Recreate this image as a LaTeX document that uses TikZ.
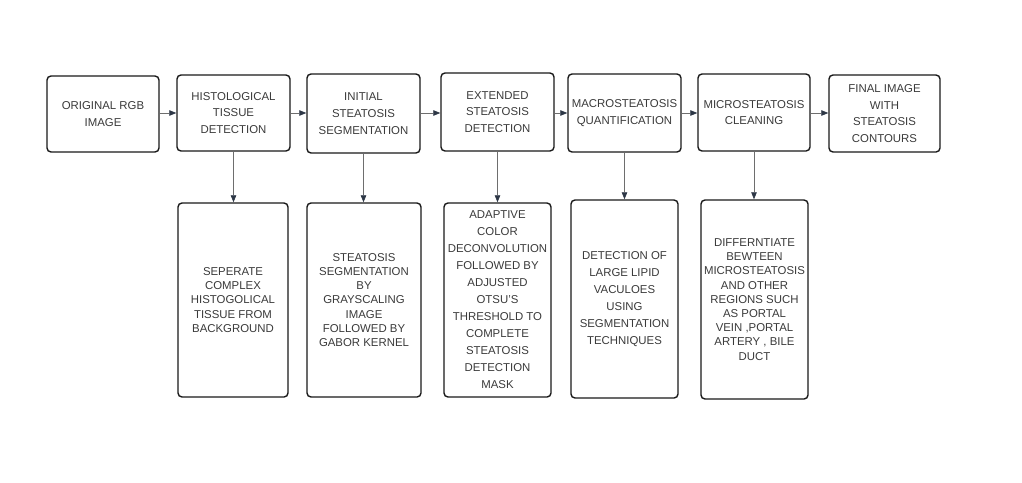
\documentclass[tikz,border=0pt]{standalone}
\usepackage{fontspec}
\setmainfont{Liberation Sans}
\usetikzlibrary{arrows.meta}
\definecolor{txt}{RGB}{58,58,58}
\definecolor{edge}{RGB}{25,25,25}
\definecolor{conn}{RGB}{110,110,110}
\definecolor{head}{RGB}{45,55,70}
\begin{document}
\begin{tikzpicture}[x=1pt,y=-1pt,
  box/.style={draw=edge, line width=1.4pt, rounded corners=4pt, inner sep=0pt, align=center, text=txt},
  tl/.style={font=\fontsize{11.4}{16.8}\selectfont},
  bs/.style={font=\fontsize{11.4}{14.2}\selectfont},
  bl/.style={font=\fontsize{11.4}{17}\selectfont},
  arr/.style={draw=conn, line width=0.7pt, -{Triangle[length=7pt,width=5.5pt,color=head,fill=head]}}]
\useasboundingbox (0,0) rectangle (1022,482);
% top row
\node[box,tl,minimum width=112pt,minimum height=76pt] (o)  at (103,114)   {ORIGINAL RGB\\IMAGE};
\node[box,tl,minimum width=113pt,minimum height=76pt] (h)  at (233.5,113) {HISTOLOGICAL\\TISSUE\\DETECTION};
\node[box,tl,minimum width=113pt,minimum height=79pt] (i)  at (363.5,113.5) {INITIAL\\STEATOSIS\\SEGMENTATION};
\node[box,tl,minimum width=113pt,minimum height=78pt] (e)  at (497.5,112) {EXTENDED\\STEATOSIS\\DETECTION};
\node[box,tl,minimum width=113pt,minimum height=78pt] (ma) at (624.5,113) {MACROSTEATOSIS\\QUANTIFICATION};
\node[box,tl,minimum width=112pt,minimum height=77pt] (mi) at (754,112.5) {MICROSTEATOSIS\\CLEANING};
\node[box,tl,minimum width=111pt,minimum height=77pt] (f)  at (884.5,113.5) {FINAL IMAGE\\WITH\\STEATOSIS\\CONTOURS};
% bottom row
\node[box,bs,minimum width=110pt,minimum height=194pt] (b1) at (233,300) {SEPERATE\\COMPLEX\\HISTOGOLICAL\\TISSUE FROM\\BACKGROUND};
\node[box,bs,minimum width=114pt,minimum height=194pt] (b2) at (364,300) {STEATOSIS\\SEGMENTATION\\BY\\GRAYSCALING\\IMAGE\\FOLLOWED BY\\GABOR KERNEL};
\node[box,bl,minimum width=107pt,minimum height=194pt] (b3) at (497.5,300) {ADAPTIVE\\COLOR\\DECONVOLUTION\\FOLLOWED BY\\ADJUSTED\\OTSU'S\\THRESHOLD TO\\COMPLETE\\STEATOSIS\\DETECTION\\MASK};
\node[box,bl,minimum width=107pt,minimum height=198pt] (b4) at (624.5,299) {DETECTION OF\\LARGE LIPID\\VACULOES\\USING\\SEGMENTATION\\TECHNIQUES};
\node[box,bs,minimum width=107pt,minimum height=199pt] (b5) at (754.5,299.5) {DIFFERNTIATE\\BEWTEEN\\MICROSTEATOSIS\\AND OTHER\\REGIONS SUCH\\AS PORTAL\\VEIN ,PORTAL\\ARTERY , BILE\\DUCT};
% horizontal arrows
\coordinate (y0) at (0,113);
\draw[arr] (o.east |- y0) -- (h.west |- y0);
\draw[arr] (h.east |- y0) -- (i.west |- y0);
\draw[arr] (i.east |- y0) -- (e.west |- y0);
\draw[arr] (e.east |- y0) -- (ma.west |- y0);
\draw[arr] (ma.east |- y0) -- (mi.west |- y0);
\draw[arr] (mi.east |- y0) -- (f.west |- y0);
% vertical arrows
\draw[arr] (h.south) -- (h.south |- b1.north);
\draw[arr] (i.south) -- (i.south |- b2.north);
\draw[arr] (e.south) -- (e.south |- b3.north);
\draw[arr] (ma.south) -- (ma.south |- b4.north);
\draw[arr] (mi.south) -- (mi.south |- b5.north);
\end{tikzpicture}
\end{document}
